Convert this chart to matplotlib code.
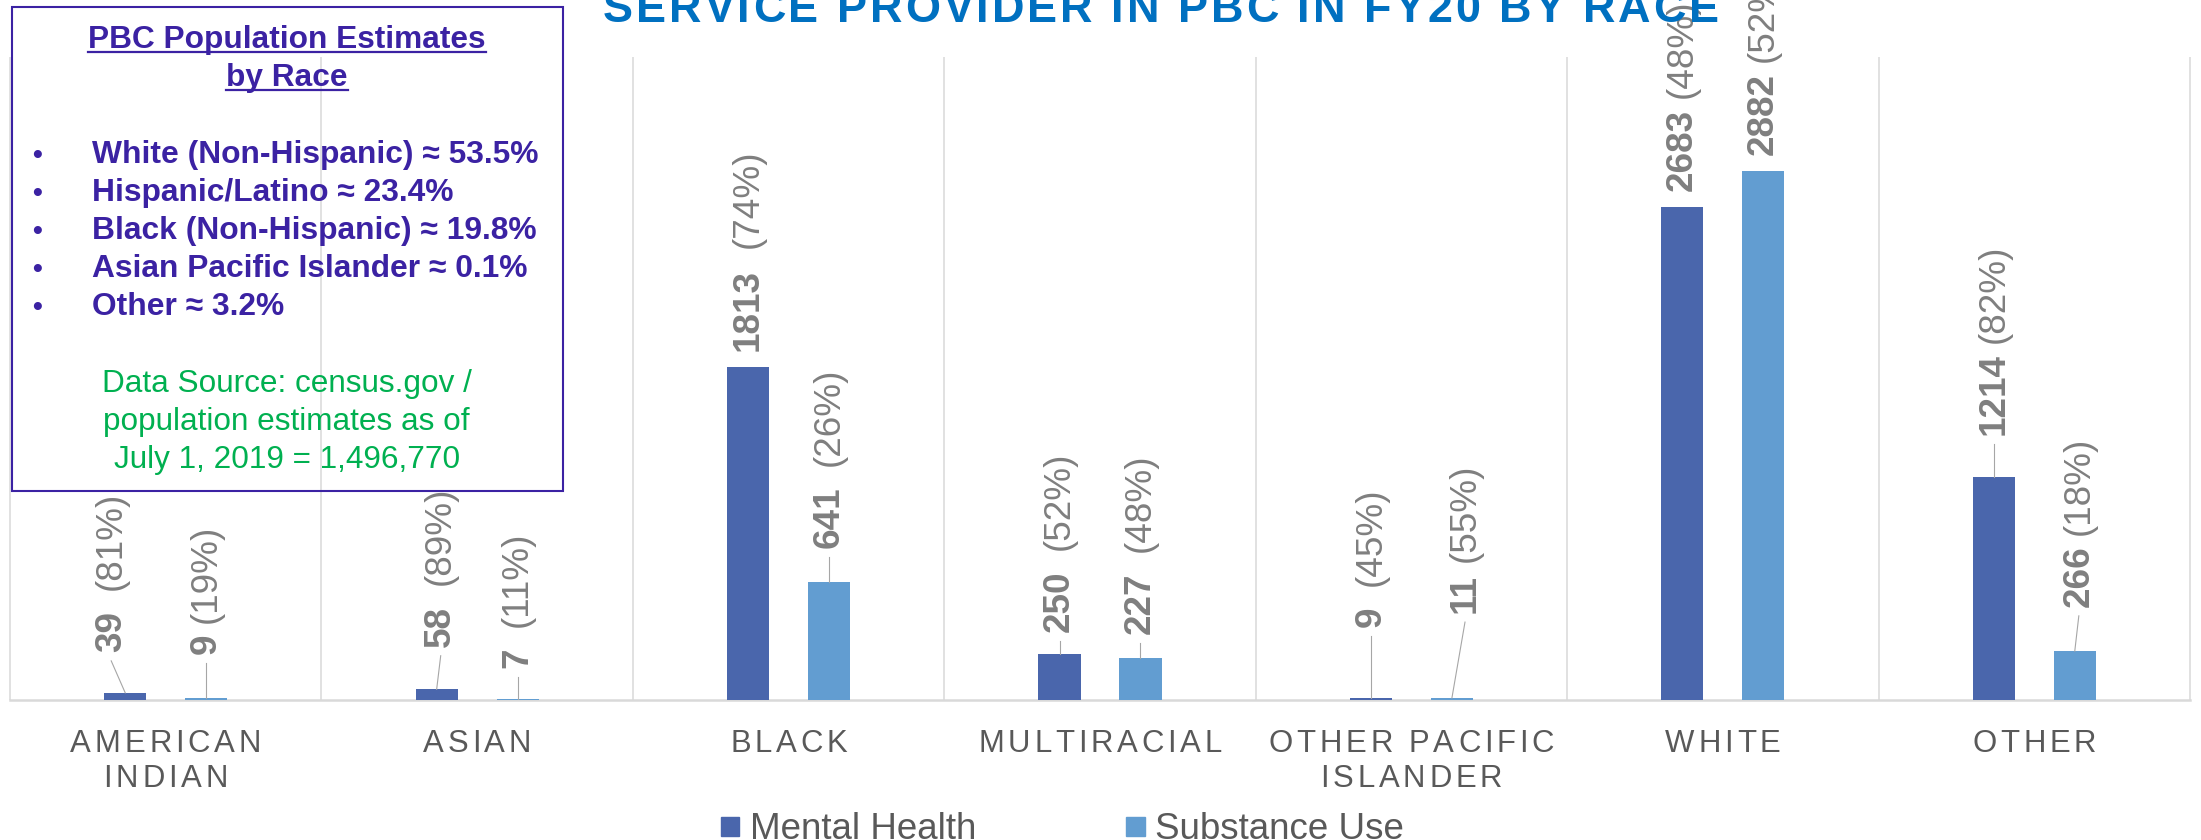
import numpy as np
import matplotlib
matplotlib.use("Agg")
import matplotlib.pyplot as plt
from matplotlib import font_manager, ft2font, transforms
from matplotlib.patches import Rectangle
from matplotlib.lines import Line2D

# ---------------- data ----------------
categories = ["AMERICAN\nINDIAN", "ASIAN", "BLACK", "MULTIRACIAL",
              "OTHER PACIFIC\nISLANDER", "WHITE", "OTHER"]
series_names = ["Mental Health", "Substance Use"]
mental_health = [39, 58, 1813, 250, 9, 2683, 1214]
substance_use = [9, 7, 641, 227, 11, 2882, 266]

population_groups = ["White (Non-Hispanic)", "Hispanic/Latino",
                     "Black (Non-Hispanic)", "Asian Pacific Islander", "Other"]
population_share = [53.5, 23.4, 19.8, 0.1, 3.2]
population_total = 1496770
population_date = "July 1, 2019"

title = "SERVICE PROVIDER IN PBC IN FY20 BY RACE"

totals = [m + s for m, s in zip(mental_health, substance_use)]
mh_pct = [round(100 * m / t) for m, t in zip(mental_health, totals)]
su_pct = [round(100 * s / t) for s, t in zip(substance_use, totals)]

# ---------------- label placement (value-axis units / category units) ----------------
mh_label_y = [262, 290, 1899, 370, 399, 2773, 1441]
su_label_y = [250, 174, 828, 359, 473, 2969, 507]
mh_label_dx = [-0.045, 0.013, 0, 0, 0, 0, 0]
su_label_dx = [0, 0, 0, 0, 0.042, 0, 0.013]
mh_leader = [True, True, False, True, True, False, True]
su_leader = [True, True, True, True, True, False, True]
mh_gap = [2, 2, 2, 2, 2, 1, 1]
su_gap = [1, 2, 2, 2, 1, 1, 1]

# ---------------- style ----------------
MH_C = "#4A66AC"
SU_C = "#629DD1"
LABEL_C = "#7F7F7F"
LEADER_C = "#A6A6A6"
CAT_C = "#595959"
GRID_C = "#D9D9D9"
TITLE_C = "#0070C0"
BOX_C = "#3B22A3"
GREEN_C = "#00B050"

plt.rcParams["font.family"] = ["Liberation Sans", "DejaVu Sans"]

W, H, DPI = 2201, 840, 100
PX = 72.0 / DPI  # points per pixel

fig = plt.figure(figsize=(W / DPI, H / DPI), dpi=DPI)
fig.patch.set_facecolor("white")


def fx(px):
    return px / W


def fy(py):
    return 1 - py / H


_fonts = {}


def advances(text, size, weight="normal"):
    if weight not in _fonts:
        path = font_manager.findfont(
            font_manager.FontProperties(family="Liberation Sans", weight=weight))
        _fonts[weight] = ft2font.FT2Font(path)
    font = _fonts[weight]
    font.set_size(size, 72)
    return [font.load_char(ord(c)).linearHoriAdvance / 65536.0 for c in text]


def spaced_text(x, y, text, size, spacing_pt, color, base, weight="normal", ha="center"):
    adv = advances(text, size, weight)
    total = sum(adv) + spacing_pt * (len(text) - 1)
    pos = {"left": 0.0, "center": -total / 2, "right": -total}[ha]
    for c, a in zip(text, adv):
        if not c.isspace():
            fig.text(x, y, c, fontsize=size, fontweight=weight, color=color,
                     ha="left", va="baseline",
                     transform=transforms.offset_copy(base, fig=fig, x=pos, y=0,
                                                      units="points"))
        pos += a + spacing_pt


# ---------------- axes ----------------
ax = fig.add_axes([fx(10), fy(700), (2190 - 10) / W, (700 - 57) / H])
ax.set_xlim(-0.5, len(categories) - 0.5)
ax.set_ylim(0, 3500)
ax.axis("off")

x = np.arange(len(categories))
ax.vlines(np.arange(len(categories) + 1) - 0.5, 0, 3500, color=GRID_C, lw=1.1,
          zorder=0, clip_on=False)
ax.axhline(0, color=GRID_C, lw=1.8, zorder=1, clip_on=False)

bar_w = 0.135
off = 0.13
ax.bar(x - off, mental_health, bar_w, color=MH_C, zorder=2)
ax.bar(x + off, substance_use, bar_w, color=SU_C, zorder=2)

LBL_FS = 26.6
space_pt = advances(" ", LBL_FS)[0]
leader_gap = 9 / (643 / 3500)


def value_label(bx, value, pct, lx, ly, gap, leader):
    ax.text(lx, ly, str(value), rotation=90, ha="center", va="bottom",
            fontsize=LBL_FS, fontweight="bold", color=LABEL_C, zorder=4)
    shift = sum(advances(str(value), LBL_FS, "bold")) + gap * space_pt
    ax.text(lx, ly, f"({pct}%)", rotation=90, ha="center", va="bottom",
            fontsize=LBL_FS, color=LABEL_C, zorder=4,
            transform=transforms.offset_copy(ax.transData, fig=fig, x=0, y=shift,
                                             units="points"))
    if leader:
        ax.plot([bx, lx], [value, ly - leader_gap], color=LEADER_C, lw=0.8, zorder=3)


for i in range(len(categories)):
    value_label(x[i] - off, mental_health[i], mh_pct[i], x[i] - off + mh_label_dx[i],
                mh_label_y[i], mh_gap[i], mh_leader[i])
    value_label(x[i] + off, substance_use[i], su_pct[i], x[i] + off + su_label_dx[i],
                su_label_y[i], su_gap[i], su_leader[i])

# category labels
cat_trans = transforms.blended_transform_factory(ax.transData, fig.transFigure)
for i, cat in enumerate(categories):
    for j, line in enumerate(cat.split("\n")):
        spaced_text(x[i], fy(751.7 + 35.6 * j), line, 22.4, 3.8 * PX, CAT_C, cat_trans)

# title (its upper part runs past the top edge)
spaced_text(fx(603), fy(22.3), title, 32.4, 3.0 * PX, TITLE_C, fig.transFigure,
            weight="bold", ha="left")

# ---------------- population box ----------------
fig.add_artist(Rectangle((fx(12), fy(490.7)), (562.5 - 12) / W, (490.7 - 6.7) / H,
                         transform=fig.transFigure, fill=False, edgecolor=BOX_C,
                         lw=1.5, zorder=5))

head1 = fig.text(fx(287), fy(48.3), "PBC Population Estimates", ha="center",
                 va="baseline", fontsize=22.8, fontweight="bold", color=BOX_C)
head2 = fig.text(fx(287), fy(86), "by Race", ha="center", va="baseline",
                 fontsize=22.8, fontweight="bold", color=BOX_C)

for i, (g, s) in enumerate(zip(population_groups, population_share)):
    yb = fy(162.7 + 38.1 * i)
    fig.text(fx(37), yb, "\u2022", ha="center", va="baseline", fontsize=20,
             fontweight="bold", color=BOX_C)
    fig.text(fx(91.5), yb, f"{g} \u2248 {s:.1f}%", ha="left", va="baseline",
             fontsize=22.9, fontweight="bold", color=BOX_C)

source_lines = ["Data Source: census.gov /", "population estimates as of",
                f"{population_date} = {population_total:,}"]
for i, line in enumerate(source_lines):
    fig.text(fx(286.6), fy(391.7 + 38.2 * i), line, ha="center", va="baseline",
             fontsize=22.7, color=GREEN_C)

renderer = fig.canvas.get_renderer()
for t, uy in ((head1, 51.7), (head2, 90)):
    bb = t.get_window_extent(renderer=renderer)
    fig.add_artist(Line2D([bb.x0 / W, bb.x1 / W], [fy(uy), fy(uy)],
                          transform=fig.transFigure, color=BOX_C, lw=1.6))

# ---------------- legend ----------------
legend_x = [720.5, 1126]
for name, color, lx in zip(series_names, [MH_C, SU_C], legend_x):
    fig.add_artist(Rectangle((fx(lx), fy(836)), 18.5 / W, 19 / H,
                             transform=fig.transFigure, color=color))
    fig.text(fx(lx + 29), fy(839), name, ha="left", va="baseline",
             fontsize=26.5, color=CAT_C)

fig.savefig("out.png", dpi=DPI, facecolor="white")
